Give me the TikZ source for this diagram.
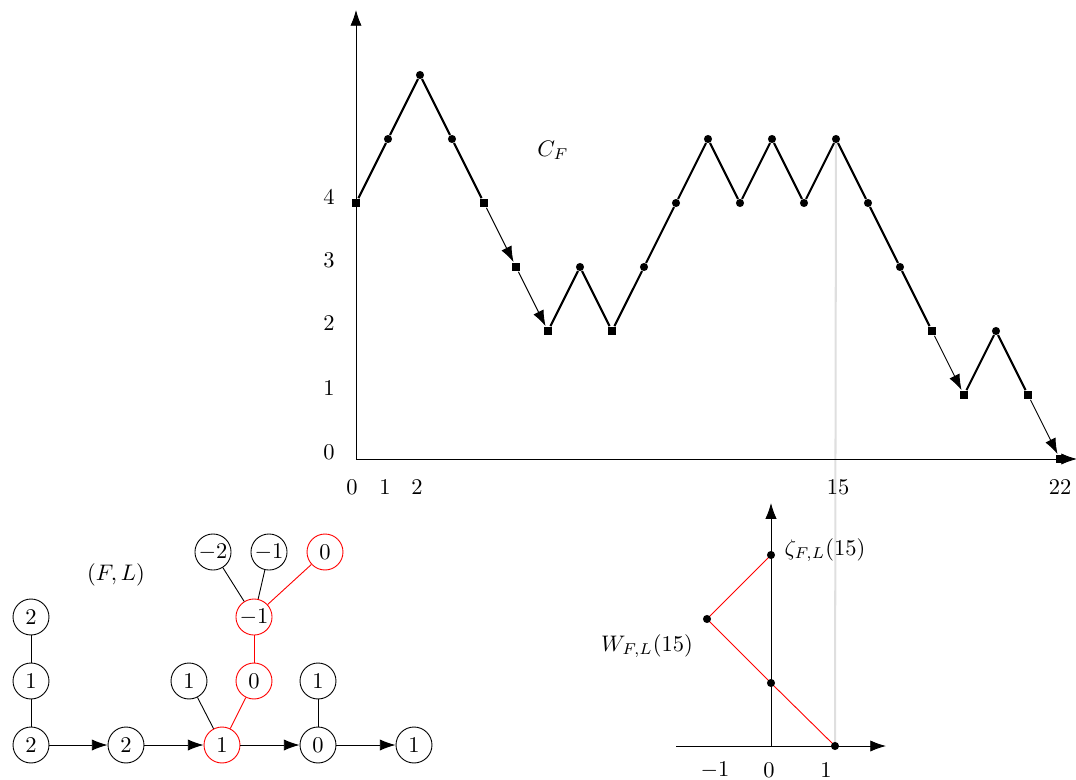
\documentclass[tikz,border=0pt]{standalone}
\usetikzlibrary{arrows.meta,backgrounds}
\begin{document}
\begin{tikzpicture}[x=0.4446pt,y=-0.4446pt,
 dot/.style={circle,fill,inner sep=0pt,minimum size=3.6pt},
 sq/.style={rectangle,fill,inner sep=0pt,minimum size=3.9pt},
 tipped/.style={-{Latex[length=7pt,width=5pt]}},
 seg/.style={line width=0.9pt},
 jump/.style={line width=0.4pt,tipped},
 axis/.style={line width=0.4pt,tipped},
 guide/.style={gray!25,line width=0.9pt},
 tn/.style={circle,draw,line width=0.4pt,inner sep=0.5pt,minimum size=16pt},
 rn/.style={tn,draw=red},
 tedge/.style={line width=0.4pt},
 redge/.style={red,line width=0.4pt}]
\useasboundingbox (0,0) rectangle (1076,780);

% ---------- top plot ----------
\foreach \i/\h/\s in {0/4/sq,1/5/dot,2/6/dot,3/5/dot,4/4/sq,5/3/sq,6/2/sq,7/3/dot,8/2/sq,9/3/dot,10/4/dot,11/5/dot,12/4/dot,13/5/dot,14/4/dot,15/5/dot,16/4/dot,17/3/dot,18/2/sq,19/1/sq,20/2/dot,21/1/sq,22/0/sq}
  \node[\s] (m\i) at ({356+32*\i},{459-64*\h}) {};

% bottom-right plot markers
\node[dot] (q1) at (835,746) {};
\node[dot] (q2) at (771,683) {};
\node[dot] (q3) at (707,619) {};
\node[dot] (q4) at (771,555) {};

% axes top
\coordinate (O) at (356,459);
\coordinate (Ytop) at (356,10);
\coordinate (Xend) at (1077,459);

\begin{scope}[on background layer]
  \draw[guide] (m15.center) -- (q1.center);
  \draw[axis] (O) -- (Ytop);
  \draw[axis] (O) -- (Xend);
\end{scope}

\foreach \a/\b in {0/1,1/2,2/3,3/4,6/7,7/8,8/9,9/10,10/11,11/12,12/13,13/14,14/15,15/16,16/17,17/18,19/20,20/21}
  \draw[seg] (m\a) -- (m\b);
\foreach \a/\b in {4/5,5/6,18/19,21/22}
  \draw[jump] (m\a) -- (m\b);

\foreach \v/\y in {0/452,1/388,2/323,3/260,4/197}
  \node (yl\v) at (329,\y) {$\v$};
\node (xl0) at (352,487) {$0$};
\node (xl1) at (385,487) {$1$};
\node (xl2) at (417,487) {$2$};
\node (xl15) at (838,487) {$15$};
\node (xl22) at (1060,487) {$22$};
\node (CF) at (553,150) {$C_F$};

% ---------- bottom-right plot ----------
\coordinate (O2) at (771,746);
\coordinate (X2s) at (676,746);
\coordinate (X2e) at (886,746);
\coordinate (Y2e) at (771,503);
\begin{scope}[on background layer]
  \draw[axis] (X2s) -- (X2e);
  \draw[axis] (O2) -- (Y2e);
  \draw[redge] (q1.center) -- (q2.center) -- (q3.center) -- (q4.center);
\end{scope}
\node (bl1) at (715,770) {$-1$};
\node (bl2) at (769,770) {$0$};
\node (bl3) at (826,770) {$1$};
\node (zeta) at (825,550) {$\zeta_{F,L}(15)$};
\node (W) at (647,646) {$W_{F,L}(15)$};

% ---------- tree ----------
\node[tn] (a1) at (31,745) {$2$};
\node[tn] (a2) at (126,745) {$2$};
\node[rn] (a3) at (222,745) {$1$};
\node[tn] (a4) at (318,745) {$0$};
\node[tn] (a5) at (414,745) {$1$};
\node[tn] (b1) at (31,681) {$1$};
\node[tn] (b2) at (189,681) {$1$};
\node[rn] (b3) at (254,681) {$0$};
\node[tn] (b4) at (318,681) {$1$};
\node[tn] (c1) at (31,617) {$2$};
\node[rn] (c2) at (254,617) {$-1$};
\node[tn] (d1) at (213,552) {$-2$};
\node[tn] (d2) at (269,552) {$-1$};
\node[rn] (d3) at (325,552) {$0$};
\node (FL) at (116,575) {$(F,L)$};

\foreach \a/\b in {a1/a2,a2/a3,a3/a4,a4/a5}
  \draw[axis] (\a) -- (\b);
\foreach \a/\b in {a1/b1,b1/c1,a3/b2,c2/d1,c2/d2,a4/b4}
  \draw[tedge] (\a) -- (\b);
\foreach \a/\b in {a3/b3,b3/c2,c2/d3}
  \draw[redge] (\a) -- (\b);
\end{tikzpicture}
\end{document}
